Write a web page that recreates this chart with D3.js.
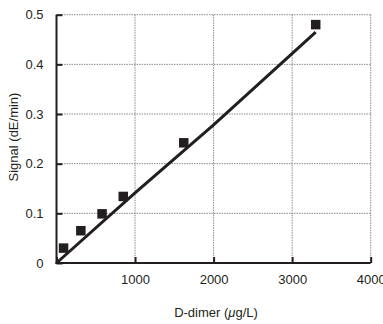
<!DOCTYPE html>
<html>
<head>
<meta charset="utf-8">
<script src="https://cdn.jsdelivr.net/npm/d3@7"></script>
<style>
  html, body { margin: 0; padding: 0; background: #fff; }
  #chart { width: 383px; height: 324px; }
  text { font-family: "Liberation Sans", Arial, sans-serif; fill: #231f20; }
</style>
</head>
<body>
<div id="chart"></div>
<script>
// measured points
const dimer = [90, 310, 580, 850, 1620, 3300];
const signal = [0.03, 0.065, 0.099, 0.134, 0.242, 0.48];
// fitted curve as drawn
const fitX = [0, 1000, 2000, 3300];
const fitY = [0, 0.141, 0.278, 0.465];
const xTicks = [0, 1000, 2000, 3000, 4000];
const yTicks = [0, 0.1, 0.2, 0.3, 0.4, 0.5];

const ink = "#231f20";
const width = 383, height = 324;
const plot = { left: 56.5, right: 370.7, top: 14.7, bottom: 263 };

const svg = d3.select("#chart").append("svg")
  .attr("width", width).attr("height", height);

const x = d3.scaleLinear().domain([0, 4000]).range([plot.left, plot.right]);
const y = d3.scaleLinear().domain([0, 0.5]).range([plot.bottom, plot.top]);

// grid
svg.append("g").selectAll("line")
  .data(xTicks.slice(1))
  .join("line")
  .attr("x1", d => x(d)).attr("x2", d => x(d))
  .attr("y1", plot.top).attr("y2", plot.bottom)
  .attr("stroke", "#8a8a8a").attr("stroke-width", 1)
  .attr("stroke-dasharray", "1.5,1");

svg.append("g").selectAll("line")
  .data(yTicks.slice(1))
  .join("line")
  .attr("x1", plot.left).attr("x2", plot.right)
  .attr("y1", d => y(d)).attr("y2", d => y(d))
  .attr("stroke", "#8a8a8a").attr("stroke-width", 1)
  .attr("stroke-dasharray", "1.5,1");

// axes
const xAxis = svg.append("g")
  .attr("transform", `translate(0,${plot.bottom})`)
  .call(d3.axisBottom(x).tickValues(xTicks).tickSize(-6).tickPadding(12)
    .tickFormat(d => d === 0 ? "" : d3.format("d")(d)));
const yAxis = svg.append("g")
  .attr("transform", `translate(${plot.left},0)`)
  .call(d3.axisLeft(y).tickValues(yTicks).tickSize(-6).tickPadding(13)
    .tickFormat(d => d === 0 ? "0" : d3.format(".1f")(d)));

[xAxis, yAxis].forEach(a => {
  a.select(".domain").attr("stroke", ink).attr("stroke-width", 2);
  a.selectAll(".tick line").attr("stroke", ink).attr("stroke-width", 2);
  a.selectAll(".tick text").attr("font-size", 13).attr("fill", ink)
    .attr("font-family", "Liberation Sans, Arial, sans-serif");
});
xAxis.select(".domain").attr("d", `M${plot.left - 1},0H${plot.right}`);
yAxis.select(".domain").attr("d", `M0,${plot.bottom + 1}V${plot.top}`);

// fitted line
svg.append("path")
  .datum(fitX.map((v, i) => [v, fitY[i]]))
  .attr("fill", "none").attr("stroke", ink).attr("stroke-width", 3)
  .attr("d", d3.line().x(d => x(d[0])).y(d => y(d[1])));

// squares
const s = 9.5;
svg.append("g").selectAll("rect")
  .data(dimer.map((v, i) => [v, signal[i]]))
  .join("rect")
  .attr("x", d => x(d[0]) - s / 2).attr("y", d => y(d[1]) - s / 2)
  .attr("width", s).attr("height", s)
  .attr("fill", ink);

// labels
const xl = svg.append("text")
  .attr("x", 216).attr("y", 317)
  .attr("text-anchor", "middle").attr("font-size", 13);
xl.append("tspan").text("D-dimer (");
xl.append("tspan").attr("font-style", "italic").text("μ");
xl.append("tspan").text("g/L)");
svg.append("text")
  .attr("transform", "translate(18,137) rotate(-90)")
  .attr("text-anchor", "middle").attr("font-size", 13)
  .text("Signal (dE/min)");
</script>
</body>
</html>
